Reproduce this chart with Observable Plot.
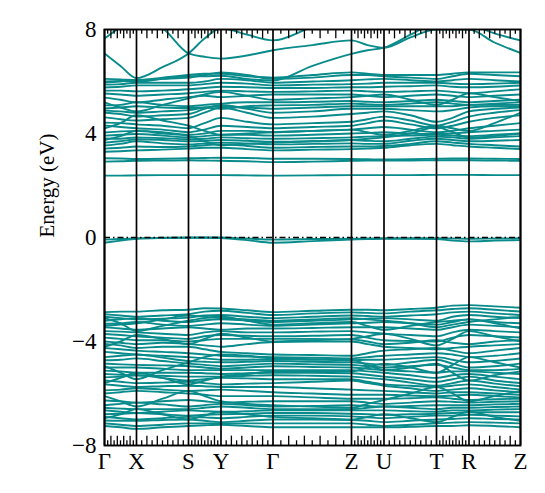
<!DOCTYPE html>
<html>
<head>
<meta charset="utf-8">
<script src="https://cdn.jsdelivr.net/npm/d3@7"></script>
<script src="https://cdn.jsdelivr.net/npm/@observablehq/plot@0.6"></script>
<style>
  html, body { margin: 0; padding: 0; background: white; }
</style>
</head>
<body>
<div id="chart"></div>
<script>
// k-path sample positions (high-symmetry points and segment midpoints)
const kpts = [0, 0.16, 0.32, 0.58, 0.84, 1.0, 1.165, 1.425, 1.685, 2.08, 2.47, 2.63, 2.795, 3.06, 3.32, 3.48, 3.645, 3.90, 4.16];
const kHigh = [0, 0.32, 0.84, 1.165, 1.685, 2.47, 2.795, 3.32, 3.645, 4.16];
const kLabels = ["Γ", "X", "S", "Y", "Γ", "Z", "U", "T", "R", "Z"];
const yTicks = [-8, -4, 0, 4, 8];

// Conduction bands (eV) at kpts
const conduction = [
  [2.38,2.38,2.39,2.40,2.40,2.40,2.40,2.39,2.38,2.39,2.40,2.40,2.40,2.40,2.41,2.41,2.41,2.40,2.40],
  [2.92,2.93,2.95,2.96,2.97,2.96,2.95,2.93,2.90,2.92,2.95,2.96,2.96,2.96,2.97,2.97,2.97,2.96,2.95],
  [3.05,3.04,3.02,3.03,3.05,3.06,3.07,3.06,3.03,3.03,3.02,3.01,3.00,3.01,3.03,3.04,3.04,3.03,3.02],
  [3.30,3.32,3.35,3.38,3.42,3.45,3.45,3.40,3.35,3.38,3.40,3.42,3.45,3.55,3.60,3.55,3.50,3.45,3.40],
  [3.42,3.45,3.50,3.48,3.50,3.55,3.58,3.52,3.45,3.48,3.50,3.50,3.52,3.60,3.70,3.65,3.60,3.55,3.50],
  [3.54,3.60,3.70,3.62,3.58,3.62,3.65,3.62,3.58,3.60,3.62,3.60,3.60,3.72,3.80,3.75,3.70,3.72,3.75],
  [3.65,3.70,3.78,3.75,3.70,3.72,3.75,3.72,3.68,3.70,3.75,3.72,3.70,3.80,3.88,3.85,3.80,3.85,3.90],
  [3.81,3.80,3.85,3.82,3.78,3.80,3.85,3.82,3.80,3.82,3.85,3.88,3.90,3.92,3.95,3.92,3.90,3.95,4.00],
  [3.92,3.95,3.98,3.92,3.85,3.90,3.95,3.95,3.92,3.95,4.00,4.02,4.05,4.00,3.98,4.00,4.05,4.10,4.15],
  [4.04,4.08,4.10,4.05,3.95,4.00,4.10,4.10,4.05,4.10,4.15,4.20,4.25,4.15,4.05,4.10,4.20,4.30,4.40],
  [4.31,4.25,4.20,4.15,4.05,4.15,4.30,4.25,4.20,4.25,4.30,4.40,4.50,4.35,4.20,4.30,4.45,4.60,4.70],
  [4.42,4.40,4.35,4.30,4.20,4.40,4.60,4.45,4.35,4.40,4.45,4.55,4.65,4.50,4.30,4.45,4.65,4.80,4.90],
  [4.62,4.55,4.50,4.55,4.60,4.80,5.00,4.80,4.60,4.65,4.75,4.80,4.85,4.70,4.45,4.60,4.85,4.95,5.00],
  [4.80,4.75,4.65,4.70,4.75,4.95,5.10,4.95,4.80,4.85,4.95,4.95,4.95,4.90,4.85,4.90,5.00,5.05,5.05],
  [4.88,4.85,4.80,4.85,4.90,5.00,5.05,5.00,4.95,5.00,5.05,5.05,5.05,5.05,5.05,5.05,5.10,5.10,5.10],
  [4.96,5.00,5.05,5.00,4.98,5.00,4.95,5.05,5.08,5.10,5.15,5.12,5.10,5.15,5.20,5.15,5.10,5.15,5.20],
  [5.08,5.10,5.20,5.10,5.05,5.10,5.15,5.20,5.20,5.22,5.25,5.22,5.20,5.25,5.30,5.25,5.20,5.25,5.30],
  [5.38,5.30,5.20,5.30,5.40,5.45,5.40,5.45,5.50,5.50,5.50,5.45,5.40,5.45,5.50,5.45,5.40,5.45,5.50],
  [5.54,5.50,5.45,5.50,5.55,5.60,5.65,5.62,5.60,5.62,5.65,5.62,5.60,5.62,5.65,5.60,5.55,5.62,5.70],
  [5.65,5.65,5.62,5.65,5.70,5.75,5.80,5.78,5.75,5.75,5.78,5.78,5.80,5.82,5.85,5.80,5.78,5.80,5.85],
  [5.77,5.80,5.85,5.85,5.85,5.90,5.95,5.92,5.85,5.88,5.90,5.92,5.95,5.95,5.95,5.92,5.90,5.92,5.95],
  [5.88,5.90,5.95,5.95,5.95,6.00,6.10,6.05,5.95,6.00,6.05,6.08,6.10,6.05,6.00,6.05,6.10,6.05,6.00],
  [5.96,6.00,6.05,6.10,6.15,6.25,6.35,6.25,6.10,6.15,6.25,6.25,6.20,6.15,6.10,6.20,6.30,6.25,6.20],
  [6.10,6.08,6.05,6.15,6.25,6.30,6.30,6.20,6.15,6.25,6.35,6.30,6.25,6.25,6.25,6.30,6.35,6.35,6.35],
  [6.00,6.02,6.00,6.10,6.20,6.20,6.22,6.10,6.04,6.60,7.06,7.20,7.30,7.80,8.30,8.40,8.40,8.50,8.60],
  [7.08,6.60,6.13,6.55,7.08,7.65,8.05,7.80,7.58,8.10,8.50,8.50,8.50,8.50,8.40,8.30,8.20,7.85,7.58],
  [8.60,8.40,8.40,8.05,7.08,6.95,6.88,7.00,7.20,7.40,7.58,7.40,7.30,7.70,8.00,8.00,8.00,7.50,7.10],
  [7.65,8.10,8.50,8.60,8.50,8.40,8.30,8.20,8.20,8.30,8.40,8.50,8.60,8.60,8.50,8.50,8.50,8.60,8.60],
  [4.20,4.40,4.70,4.50,4.30,4.10,3.95,4.00,4.05,4.10,4.15,4.05,3.95,4.10,4.30,4.20,4.10,4.40,4.80],
  [5.20,5.00,4.85,5.10,5.35,5.50,5.60,5.45,5.30,5.35,5.40,5.45,5.50,5.30,5.10,5.30,5.55,5.40,5.25],
  [3.75,3.90,4.10,4.00,3.90,3.70,3.55,3.60,3.65,3.70,3.75,3.80,3.85,4.00,4.25,4.05,3.85,3.90,4.00]
];

// Bands just below the Fermi level (eV)
const fermiBands = [
  [-0.08,-0.06,-0.03,-0.01,0.00,0.00,0.00,-0.04,-0.08,-0.06,-0.05,-0.04,-0.03,-0.03,-0.03,-0.04,-0.05,-0.04,-0.03],
  [-0.20,-0.12,-0.05,-0.02,-0.01,-0.01,-0.02,-0.10,-0.20,-0.14,-0.08,-0.06,-0.05,-0.05,-0.06,-0.12,-0.15,-0.12,-0.10]
];

// Valence bands (eV)
const valence = [
  [-2.87,-2.85,-2.85,-2.80,-2.78,-2.72,-2.73,-2.80,-2.87,-2.82,-2.78,-2.78,-2.80,-2.75,-2.70,-2.62,-2.60,-2.65,-2.70],
  [-2.95,-3.00,-3.05,-3.00,-2.95,-2.85,-2.82,-2.90,-2.98,-2.92,-2.88,-2.90,-2.92,-2.85,-2.80,-2.75,-2.72,-2.78,-2.85],
  [-3.05,-3.10,-3.15,-3.12,-3.08,-3.00,-2.98,-3.05,-3.10,-3.05,-3.00,-3.02,-3.05,-3.00,-2.95,-2.88,-2.85,-2.92,-2.98],
  [-3.20,-3.15,-3.10,-3.20,-3.25,-3.18,-3.15,-3.20,-3.25,-3.20,-3.15,-3.12,-3.10,-3.15,-3.20,-3.05,-2.98,-3.05,-3.10],
  [-3.32,-3.30,-3.25,-3.35,-3.40,-3.35,-3.30,-3.35,-3.40,-3.35,-3.30,-3.28,-3.25,-3.30,-3.35,-3.25,-3.15,-3.25,-3.30],
  [-3.45,-3.50,-3.55,-3.50,-3.45,-3.50,-3.55,-3.50,-3.50,-3.48,-3.45,-3.45,-3.45,-3.50,-3.55,-3.45,-3.35,-3.40,-3.45],
  [-3.60,-3.62,-3.65,-3.70,-3.75,-3.65,-3.60,-3.65,-3.65,-3.62,-3.60,-3.65,-3.70,-3.75,-3.80,-3.65,-3.55,-3.60,-3.65],
  [-3.71,-3.75,-3.80,-3.85,-3.90,-3.80,-3.75,-3.78,-3.80,-3.78,-3.75,-3.85,-3.95,-3.98,-4.00,-3.85,-3.75,-3.80,-3.85],
  [-3.85,-3.90,-3.95,-3.95,-4.00,-3.95,-3.90,-3.90,-3.90,-3.90,-3.92,-4.00,-4.10,-4.05,-3.95,-4.05,-4.10,-4.00,-3.95],
  [-4.00,-4.05,-4.10,-4.05,-4.10,-4.15,-4.20,-4.10,-4.02,-4.00,-4.00,-4.10,-4.20,-4.25,-4.30,-4.25,-4.20,-4.15,-4.10],
  [-4.09,-4.15,-4.25,-4.20,-4.20,-4.30,-4.40,-4.45,-4.50,-4.52,-4.55,-4.45,-4.35,-4.30,-4.25,-4.35,-4.45,-4.35,-4.25],
  [-4.25,-4.30,-4.35,-4.40,-4.45,-4.50,-4.55,-4.58,-4.60,-4.62,-4.65,-4.60,-4.55,-4.50,-4.45,-4.50,-4.60,-4.55,-4.45],
  [-4.40,-4.45,-4.50,-4.55,-4.60,-4.65,-4.70,-4.70,-4.68,-4.70,-4.72,-4.70,-4.70,-4.65,-4.60,-4.70,-4.80,-4.75,-4.65],
  [-4.60,-4.55,-4.50,-4.62,-4.75,-4.78,-4.80,-4.78,-4.75,-4.78,-4.80,-4.85,-4.90,-4.80,-4.70,-4.85,-5.00,-4.95,-4.85],
  [-4.72,-4.70,-4.65,-4.75,-4.85,-4.90,-4.95,-4.90,-4.85,-4.88,-4.90,-4.95,-5.00,-4.95,-4.90,-5.00,-5.10,-5.10,-5.05],
  [-4.85,-4.88,-4.90,-4.92,-4.95,-5.00,-5.05,-5.00,-4.95,-4.98,-5.00,-5.05,-5.10,-5.15,-5.20,-5.15,-5.15,-5.20,-5.25],
  [-5.00,-5.00,-5.00,-5.05,-5.10,-5.10,-5.10,-5.10,-5.10,-5.10,-5.10,-5.15,-5.20,-5.30,-5.40,-5.30,-5.25,-5.35,-5.45],
  [-5.12,-5.15,-5.20,-5.20,-5.20,-5.22,-5.25,-5.22,-5.20,-5.20,-5.22,-5.28,-5.35,-5.45,-5.55,-5.45,-5.35,-5.50,-5.60],
  [-5.25,-5.28,-5.30,-5.32,-5.35,-5.35,-5.35,-5.32,-5.30,-5.32,-5.35,-5.40,-5.45,-5.58,-5.70,-5.60,-5.50,-5.62,-5.72],
  [-5.38,-5.35,-5.30,-5.40,-5.50,-5.45,-5.40,-5.42,-5.45,-5.45,-5.45,-5.55,-5.65,-5.70,-5.75,-5.70,-5.65,-5.75,-5.85],
  [-5.50,-5.55,-5.60,-5.58,-5.55,-5.60,-5.65,-5.62,-5.60,-5.55,-5.50,-5.60,-5.70,-5.80,-5.90,-5.85,-5.80,-5.88,-5.95],
  [-5.65,-5.70,-5.75,-5.72,-5.70,-5.72,-5.75,-5.75,-5.75,-5.80,-5.85,-5.88,-5.90,-5.95,-6.00,-5.95,-5.95,-6.00,-6.05],
  [-5.88,-5.85,-5.80,-5.85,-5.90,-5.88,-5.85,-5.90,-5.95,-6.00,-6.05,-6.05,-6.05,-6.08,-6.10,-6.08,-6.05,-6.10,-6.15],
  [-6.00,-5.95,-5.90,-5.95,-6.00,-6.05,-6.10,-6.10,-6.10,-6.15,-6.20,-6.20,-6.20,-6.18,-6.15,-6.20,-6.25,-6.22,-6.20],
  [-6.27,-6.30,-6.35,-6.30,-6.25,-6.30,-6.35,-6.32,-6.30,-6.30,-6.30,-6.35,-6.40,-6.35,-6.30,-6.32,-6.35,-6.32,-6.30],
  [-6.45,-6.40,-6.35,-6.42,-6.50,-6.45,-6.40,-6.45,-6.50,-6.48,-6.45,-6.48,-6.50,-6.48,-6.45,-6.45,-6.45,-6.42,-6.40],
  [-6.55,-6.58,-6.60,-6.60,-6.60,-6.55,-6.50,-6.55,-6.60,-6.60,-6.60,-6.55,-6.50,-6.55,-6.60,-6.55,-6.55,-6.52,-6.50],
  [-6.65,-6.70,-6.75,-6.70,-6.65,-6.68,-6.70,-6.68,-6.65,-6.65,-6.65,-6.65,-6.65,-6.68,-6.70,-6.65,-6.65,-6.62,-6.60],
  [-6.80,-6.78,-6.75,-6.80,-6.85,-6.82,-6.80,-6.78,-6.75,-6.75,-6.78,-6.80,-6.82,-6.80,-6.78,-6.75,-6.72,-6.72,-6.72],
  [-6.90,-6.95,-7.00,-6.95,-6.90,-6.92,-6.95,-6.90,-6.85,-6.85,-6.88,-6.92,-6.95,-6.90,-6.85,-6.85,-6.82,-6.85,-6.88],
  [-7.04,-7.05,-7.05,-7.02,-7.00,-7.05,-7.10,-7.05,-7.00,-7.00,-7.02,-7.05,-7.10,-7.05,-7.00,-6.98,-6.95,-6.98,-7.00],
  [-7.15,-7.20,-7.25,-7.20,-7.15,-7.15,-7.15,-7.15,-7.15,-7.15,-7.15,-7.20,-7.25,-7.20,-7.15,-7.12,-7.10,-7.12,-7.15],
  [-7.25,-7.30,-7.36,-7.30,-7.25,-7.22,-7.20,-7.25,-7.30,-7.30,-7.30,-7.30,-7.30,-7.28,-7.25,-7.25,-7.22,-7.25,-7.30],
  [-3.10,-3.30,-3.60,-3.40,-3.20,-3.10,-3.05,-3.20,-3.35,-3.30,-3.25,-3.40,-3.55,-3.40,-3.25,-3.20,-3.15,-3.30,-3.50],
  [-4.20,-4.00,-3.75,-3.90,-4.10,-3.90,-3.70,-3.85,-4.00,-3.95,-3.90,-3.80,-3.70,-3.90,-4.15,-3.90,-3.60,-3.80,-4.00],
  [-5.60,-5.40,-5.20,-5.40,-5.65,-5.50,-5.35,-5.25,-5.15,-5.15,-5.15,-5.00,-4.85,-5.00,-5.20,-4.90,-4.60,-4.80,-5.00],
  [-6.10,-6.30,-6.50,-6.20,-5.90,-6.10,-6.30,-6.40,-6.45,-6.50,-6.55,-6.40,-6.25,-6.00,-5.75,-6.00,-6.30,-6.10,-5.90],
  [-4.95,-5.20,-5.45,-5.10,-4.80,-4.60,-4.50,-4.55,-4.65,-4.68,-4.70,-4.90,-5.10,-5.00,-4.85,-5.20,-5.50,-5.30,-5.15],
  [-6.95,-6.80,-6.60,-6.80,-7.00,-6.85,-6.70,-6.80,-6.90,-6.95,-7.00,-6.90,-6.80,-6.95,-7.10,-6.90,-6.70,-6.90,-7.05],
  [-3.40,-3.35,-3.30,-3.15,-3.00,-3.05,-3.10,-3.15,-3.20,-3.15,-3.10,-3.15,-3.20,-3.30,-3.45,-3.35,-3.25,-3.15,-3.05]
];

// ---- build tables for Plot ----
const bandRows = [];
[...valence, ...fermiBands, ...conduction].forEach((band, b) => {
  band.forEach((e, i) => bandRows.push({band: b, k: kpts[i], e}));
});
const labelMap = new Map(kHigh.map((k, i) => [k, kLabels[i]]));

// minor ticks along top and bottom edges: 10 divisions per segment
const minorTicks = [];
for (let s = 0; s < kHigh.length - 1; s++) {
  for (let j = 1; j < 10; j++) {
    minorTicks.push({k: kHigh[s] + (kHigh[s + 1] - kHigh[s]) * j / 10, major: j % 2 === 0});
  }
}
const tallLen = 0.36, shortLen = 0.18;

const teal = "#0a8b8b";
const chart = Plot.plot({
  width: 545,
  height: 493,
  marginLeft: 104,
  marginRight: 25,
  marginTop: 29,
  marginBottom: 48,
  x: {domain: [0, 4.16]},
  y: {domain: [-8, 8]},
  style: {fontFamily: "'Liberation Serif', 'DejaVu Serif', serif", fontSize: "22px", color: "black", background: "white"},
  marks: [
    Plot.line(bandRows, {x: "k", y: "e", z: "band", stroke: teal, strokeWidth: 1.9, curve: "monotone-x", clip: true}),
    Plot.ruleY([0], {stroke: "black", strokeWidth: 1.4, strokeDasharray: "6,3,1.5,3"}),
    Plot.ruleX(kHigh, {stroke: "black", strokeWidth: 1.7}),
    Plot.ruleX(minorTicks, {x: "k", y1: -8, y2: d => -8 + (d.major ? tallLen : shortLen), stroke: "black", strokeWidth: 1.3}),
    Plot.ruleX(minorTicks, {x: "k", y1: 8, y2: d => 8 - (d.major ? tallLen : shortLen), stroke: "black", strokeWidth: 1.3}),
    Plot.frame({stroke: "black", strokeWidth: 1.9}),
    Plot.axisY({ticks: yTicks, tickSize: 0, tickPadding: 8, fontSize: 23, label: null}),
    Plot.axisX({ticks: kHigh, tickSize: 0, tickPadding: 7, fontSize: 23, label: null, tickFormat: d => labelMap.get(d)}),
    Plot.text(["Energy (eV)"], {frameAnchor: "left", rotate: -90, dx: -57, text: d => d, fontSize: 21})
  ]
});
document.getElementById("chart").appendChild(chart);
</script>
</body>
</html>
